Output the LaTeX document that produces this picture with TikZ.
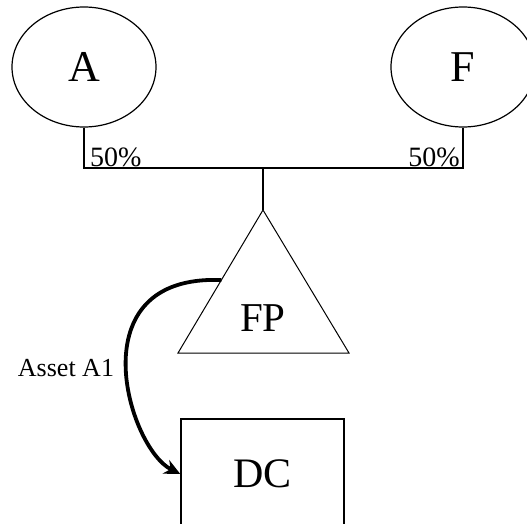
\documentclass[tikz,border=0pt]{standalone}
\usepackage{fontspec}
\setmainfont{Liberation Serif}
\usetikzlibrary{arrows.meta, calc, shapes.geometric}

\begin{document}
\begin{tikzpicture}[
x=1pt, y=-1pt,
owner/.style={ellipse, draw, line width=1.2pt, inner sep=0pt, minimum width=144pt, minimum height=120pt, font=\fontsize{44}{44}\selectfont},
entity/.style={draw, line width=1.4pt, inner sep=0pt, minimum width=163pt, minimum height=110pt, font=\fontsize{42}{42}\selectfont},
share/.style={inner sep=1pt, font=\fontsize{28}{28}\selectfont},
link/.style={line width=1.2pt},
]
\useasboundingbox (0,0) rectangle (527,524);

\node[owner] at (84,67) (a) {A};
\node[owner] at (463,67) (f) {F};
\node[entity] at (262.5,474) (dc) {DC};

% Triangle:
\coordinate (top) at (263,210);
\coordinate (bl) at (178,353);
\coordinate (br) at (349,353);
\draw[line width=1pt] (top) -- (bl) -- (br) -- cycle;
\node[font=\fontsize{41}{41}\selectfont] at (263,318) (fp) {FP};

% Ownership lines:
\coordinate (ja) at (84,168);
\coordinate (jf) at (463,168);
\coordinate (mid) at (263,168);
\draw[link] (a) -- (ja) -- (jf) -- (f);
\draw[link] (mid) -- (top);

\node[share, anchor=south west] at (89,168) (pa) {50\%};
\node[share, anchor=south east] at (461,168) (pf) {50\%};

% Asset transfer:
\coordinate (out) at ($(top)!0.49!(bl)$);
\draw[line width=3.8pt, -{Stealth[length=16pt, width=15pt]}] (out) .. controls (76,274) and (128,448) .. (dc.west);
\node[share, font=\fontsize{26}{26}\selectfont] at (66,368) (asset) {Asset A1};
\end{tikzpicture}
\end{document}
